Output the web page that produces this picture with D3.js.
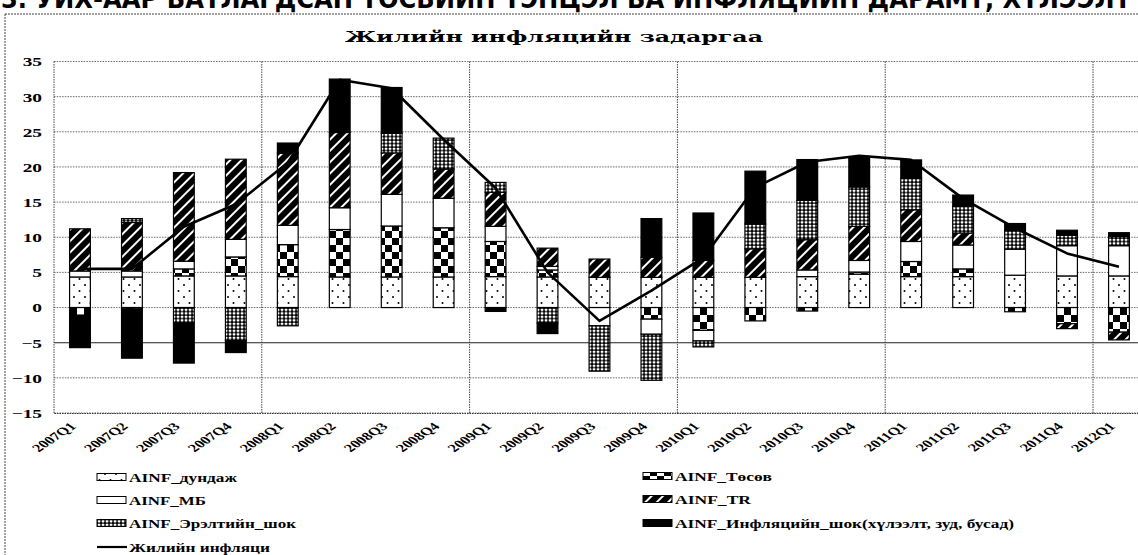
<!DOCTYPE html>
<html>
<head>
<meta charset="utf-8">
<script src="https://cdn.jsdelivr.net/npm/d3@7"></script>
<style>
  body { margin: 0; background: #fff; }
  text { font-family: "Liberation Serif", "Times New Roman", serif; font-weight: bold; fill: #000; }
</style>
</head>
<body>
<script>
// quarters on the x axis
const quarters = ['2007Q1','2007Q2','2007Q3','2007Q4','2008Q1','2008Q2','2008Q3','2008Q4',
  '2009Q1','2009Q2','2009Q3','2009Q4','2010Q1','2010Q2','2010Q3','2010Q4',
  '2011Q1','2011Q2','2011Q3','2011Q4','2012Q1'];

// components
const dundaj  = [4.35, 4.35, 4.5, 4.5, 4.4, 4.35, 4.35, 4.35, 4.4, 4.35, 4.3, 4.3, 4.3, 4.3, 4.4, 4.75, 4.4, 4.4, 4.6, 4.5, 4.5];
const tosov   = [-1.1, -0.2, 1.0, 2.7, 4.55, 6.75, 7.25, 7.0, 5.0, 1.0, 0, -1.65, -3.25, -1.9, -0.5, 0.3, 2.15, 1.1, -0.6, -2.3, -3.5];
const mb      = [0.85, 0.85, 1.1, 2.5, 2.75, 3.1, 4.5, 4.2, 2.15, 0.5, -2.6, -2.15, -1.5, 0, 0.95, 1.65, 2.85, 3.4, 3.7, 4.3, 4.3];
const tr      = [6.0, 6.9, 12.6, 11.4, 10.25, 10.7, 5.9, 4.15, 4.85, 2.6, 2.6, 2.85, 2.4, 4.05, 4.3, 4.85, 4.5, 1.7, 0, -0.7, -1.1];
const ereltShok = [0, 0.55, -2.2, -4.7, -2.6, 0, 2.8, 4.4, 1.4, -2.2, -6.45, -6.55, -0.85, 3.55, 5.6, 5.6, 4.5, 3.8, 2.7, 1.5, 1.3];
const inflShok  = [-4.6, -7.0, -5.7, -1.7, 1.45, 7.6, 6.5, 0, -0.55, -1.5, 0, 5.5, 6.75, 7.5, 5.8, 4.3, 2.6, 1.6, 0.95, 0.7, 0.55];

// annual inflation line
const inflation = [5.5, 5.5, 11.5, 14.7, 20.6, 32.4, 31.2, 23.9, 17.0, 5.0, -1.9, 2.4, 7.1, 17.1, 20.7, 21.6, 21.0, 15.5, 11.3, 7.7, 5.8];

const yTicks = [35, 30, 25, 20, 15, 10, 5, 0, -5, -10, -15];

const seriesNames = ['AINF_дундаж', 'AINF_Төсөв', 'AINF_МБ', 'AINF_TR',
  'AINF_Эрэлтийн_шок', 'AINF_Инфляцийн_шок(хүлээлт, зуд, бусад)'];
const lineName = 'Жилийн инфляци';
const title = 'Жилийн инфляцийн задаргаа';
const heading = '3. УИХ-аар батлагдсан төсвийн тэнцэл ба инфляцийн дарамт, хүлээлт';

const keys = ['dundaj','tosov','mb','tr','erelt','infl'];
const rows = quarters.map((q, i) => ({
  q: q, dundaj: dundaj[i], tosov: tosov[i], mb: mb[i], tr: tr[i], erelt: ereltShok[i], infl: inflShok[i]
}));

const width = 1138, height = 555;
const plotLeft = 54, step = 51.95;
const svg = d3.select('body').append('svg').attr('width', width).attr('height', height);

// stretch text horizontally (the scan is wider than tall)
function stretch(sel, k) {
  sel.each(function () {
    const w = this.getComputedTextLength();
    d3.select(this).attr('textLength', w * k).attr('lengthAdjust', 'spacingAndGlyphs');
  });
}

// patterns
const defs = svg.append('defs');
const pDots = defs.append('pattern').attr('id', 'pDots').attr('patternUnits', 'userSpaceOnUse')
  .attr('width', 11).attr('height', 12);
pDots.append('rect').attr('width', 11).attr('height', 12).attr('fill', '#fff');
pDots.append('circle').attr('cx', 2.5).attr('cy', 3).attr('r', 1).attr('fill', '#000');
pDots.append('circle').attr('cx', 8).attr('cy', 9).attr('r', 1).attr('fill', '#000');

const pCheck = defs.append('pattern').attr('id', 'pCheck').attr('patternUnits', 'userSpaceOnUse')
  .attr('width', 14).attr('height', 14);
pCheck.append('rect').attr('width', 14).attr('height', 14).attr('fill', '#fff');
pCheck.append('rect').attr('width', 7).attr('height', 7).attr('fill', '#000');
pCheck.append('rect').attr('x', 7).attr('y', 7).attr('width', 7).attr('height', 7).attr('fill', '#000');

const pHatch = defs.append('pattern').attr('id', 'pHatch').attr('patternUnits', 'userSpaceOnUse')
  .attr('width', 8).attr('height', 8).attr('patternTransform', 'rotate(45)');
pHatch.append('rect').attr('width', 8).attr('height', 8).attr('fill', '#000');
pHatch.append('rect').attr('x', 3).attr('width', 2).attr('height', 8).attr('fill', '#fff');

const pMesh = defs.append('pattern').attr('id', 'pMesh').attr('patternUnits', 'userSpaceOnUse')
  .attr('width', 4).attr('height', 3.5);
pMesh.append('rect').attr('width', 4).attr('height', 3.5).attr('fill', '#000');
pMesh.append('rect').attr('x', 0.7).attr('y', 0.6).attr('width', 2.7).attr('height', 2.4).attr('rx', 0.8).attr('fill', '#fff');

const fills = ['url(#pDots)', 'url(#pCheck)', '#fff', 'url(#pHatch)', 'url(#pMesh)', '#000'];

// scales
const x = d3.scaleBand().domain(quarters)
  .range([plotLeft, plotLeft + quarters.length * step])
  .paddingInner(0.6).paddingOuter(0.3);
const y = d3.scaleLinear().domain([-15, 35]).range([413, 61.5]);
const xRight = plotLeft + quarters.length * step;

// outer frame of the scanned figure
svg.append('line').attr('x1', 5).attr('x2', width).attr('y1', 14).attr('y2', 14)
  .attr('stroke', '#444').attr('stroke-dasharray', '2,1');
svg.append('line').attr('x1', 5).attr('x2', 5).attr('y1', 14).attr('y2', height)
  .attr('stroke', '#444').attr('stroke-dasharray', '2,1');

// heading of the page, only its lower half is in the scan
svg.append('text').attr('x', 1).attr('y', 8)
  .style('font-family', '"DejaVu Sans", sans-serif').style('font-size', '26px')
  .attr('textLength', 1130).attr('lengthAdjust', 'spacingAndGlyphs')
  .text(heading.toUpperCase());

// title
svg.append('text').attr('x', 554).attr('y', 42).attr('text-anchor', 'middle')
  .style('font-family', '"DejaVu Serif", serif').style('font-size', '15px')
  .attr('textLength', 418).attr('lengthAdjust', 'spacingAndGlyphs')
  .text(title);

// gridlines
svg.append('g').selectAll('line').data(yTicks).join('line')
  .attr('x1', plotLeft).attr('x2', xRight)
  .attr('y1', d => y(d)).attr('y2', d => y(d))
  .attr('stroke', d => d === -5 ? '#222' : '#444')
  .attr('stroke-width', d => d === -5 ? 1.1 : 0.8)
  .attr('stroke-dasharray', d => d === -5 ? null : '1.5,1.2');

// year separators
const yearStarts = quarters.filter((q, i) => i > 0 && q.endsWith('Q1'));
svg.append('g').selectAll('line').data(yearStarts).join('line')
  .attr('x1', d => x(d) - x.step() * 0.3).attr('x2', d => x(d) - x.step() * 0.3)
  .attr('y1', y(35)).attr('y2', y(-15))
  .attr('stroke', '#333').attr('stroke-width', 0.9).attr('stroke-dasharray', '1.5,1');
svg.append('line').attr('x1', plotLeft).attr('x2', plotLeft).attr('y1', y(35)).attr('y2', y(-15))
  .attr('stroke', '#333').attr('stroke-width', 0.9).attr('stroke-dasharray', '1.5,1');

// y axis labels
const yAxis = svg.append('g').attr('transform', 'translate(42,0)')
  .call(d3.axisLeft(y).tickValues(yTicks).tickSize(0).tickPadding(0));
yAxis.select('.domain').remove();
yAxis.selectAll('text').style('font-family', '"Liberation Serif", serif').style('font-size', '12.5px')
  .attr('dy', '0.35em');
stretch(yAxis.selectAll('text'), 1.55);

// stacked bars
const stack = d3.stack().keys(keys).offset(d3.stackOffsetDiverging);
const layers = stack(rows);
svg.append('g').selectAll('g').data(layers).join('g')
  .attr('fill', (d, i) => fills[i])
  .selectAll('rect').data(d => d.filter(s => s[1] !== s[0])).join('rect')
  .attr('x', d => x(d.data.q))
  .attr('y', d => y(d[1]))
  .attr('width', x.bandwidth())
  .attr('height', d => y(d[0]) - y(d[1]))
  .attr('stroke', '#000').attr('stroke-width', 1.2);

// inflation line
const line = d3.line()
  .x((d, i) => x(quarters[i]) + x.bandwidth() / 2)
  .y(d => y(d));
svg.append('path').datum(inflation).attr('d', line)
  .attr('fill', 'none').attr('stroke', '#000').attr('stroke-width', 2.6).attr('stroke-linejoin', 'round');

// x axis labels
const xAxis = svg.append('g').attr('transform', `translate(0,${y(-15)})`)
  .call(d3.axisBottom(x).tickSize(0));
xAxis.select('.domain').attr('stroke', '#333').attr('stroke-dasharray', '1.5,1');
xAxis.selectAll('text')
  .attr('x', 0).attr('y', 0).attr('dy', 0)
  .attr('text-anchor', 'end')
  .attr('transform', 'translate(-3,14) scale(1.5,1) rotate(-45)')
  .style('font-family', '"Liberation Serif", serif').style('font-size', '11px');

// legend (w = printed width of each label in the scan)
const legendItems = [
  { name: seriesNames[0], fill: fills[0], lx: 97, ly: 477, w: 108 },
  { name: seriesNames[2], fill: fills[2], lx: 97, ly: 500, w: 77 },
  { name: seriesNames[4], fill: fills[4], lx: 97, ly: 523, w: 167 },
  { name: seriesNames[1], fill: fills[1], lx: 643, ly: 476, w: 97 },
  { name: seriesNames[3], fill: fills[3], lx: 643, ly: 499, w: 76 },
  { name: seriesNames[5], fill: fills[5], lx: 643, ly: 523, w: 339 }
];
const legend = svg.append('g');
const li = legend.selectAll('g').data(legendItems).join('g')
  .attr('transform', d => `translate(${d.lx},${d.ly})`);
li.append('rect').attr('x', 0).attr('y', -3.5).attr('width', 29).attr('height', 7)
  .attr('fill', d => d.fill).attr('stroke', '#000').attr('stroke-width', 1);
li.append('text').attr('x', 32).attr('y', 0).attr('dy', '0.35em')
  .style('font-size', '13px')
  .attr('textLength', d => d.w).attr('lengthAdjust', 'spacingAndGlyphs')
  .text(d => d.name);

const ll = legend.append('g').attr('transform', 'translate(97,547)');
ll.append('line').attr('x1', 0).attr('x2', 30).attr('stroke', '#000').attr('stroke-width', 2.2);
ll.append('text').attr('x', 32).attr('dy', '0.35em').style('font-size', '13px')
  .attr('textLength', 141).attr('lengthAdjust', 'spacingAndGlyphs')
  .text(lineName);
</script>
</body>
</html>
